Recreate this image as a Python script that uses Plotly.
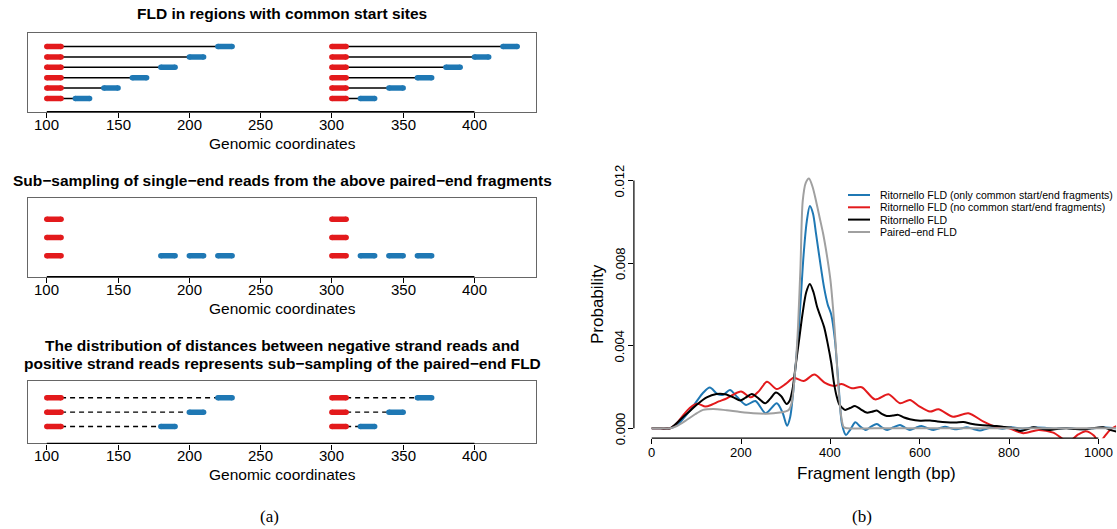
import plotly.graph_objects as go

W, H = 1117, 529
SANS = "Liberation Sans, Arial, Helvetica, sans-serif"
SERIF = "Liberation Serif, Times New Roman, serif"

RED = "#E31A1C"
BLUE = "#1F78B4"
GRAY = "#A0A0A0"

# ---------------- panel (a): read layouts ----------------
READ_LEN = 10
genomic_ticks = [100, 150, 200, 250, 300, 350, 400]

# paired-end fragments sharing start sites
fld_rows = [1, 2, 3, 4, 5, 6]
fld_neg_left = [100, 100, 100, 100, 100, 100]
fld_pos_left = [120, 140, 160, 180, 200, 220]
fld_neg_right = [300, 300, 300, 300, 300, 300]
fld_pos_right = [320, 340, 360, 380, 400, 420]

# single-end reads sub-sampled from those fragments
sub_neg_rows = [1, 2, 3]
sub_neg_left = [100, 100, 100]
sub_neg_right = [300, 300, 300]
sub_pos_rows = [1, 1, 1, 1, 1, 1]
sub_pos_starts = [180, 200, 220, 320, 340, 360]

# negative-to-positive strand distances
dist_rows = [1, 2, 3]
dist_neg_left = [100, 100, 100]
dist_pos_left = [180, 200, 220]
dist_neg_right = [300, 300, 300]
dist_pos_right = [320, 340, 360]

# ---------------- panel (b): fragment length distributions ----------------
len_only_common = [0, 20, 41, 56, 71, 86, 100, 115, 130, 147, 160, 175, 192, 211, 232, 255, 280, 293,
                   303, 310, 316, 322, 328, 334, 340, 347, 354, 361, 368, 376, 386, 394, 402, 410, 418,
                   426, 435, 445, 456, 467, 479, 491, 504, 515, 527, 541, 556, 567, 578, 591, 604, 618,
                   631, 644, 657, 670, 683, 694, 705, 720, 735, 750, 765, 785, 805, 830, 855, 880, 905,
                   930, 955, 975, 995, 1015, 1040]
prob_only_common = [0, 0, 0, 0.00015, 0.00048, 0.00088, 0.00129, 0.00172, 0.00197, 0.00166, 0.00162,
                    0.00186, 0.00150, 0.00113, 0.00132, 0.00073, 0.00121, 0.00075, 0.00012, 0.00055,
                    0.0016, 0.0030, 0.0045, 0.0064, 0.0084, 0.0100, 0.01076, 0.0104, 0.0094, 0.0082,
                    0.0068, 0.0060, 0.0055, 0.0043, 0.0022, 0.0002, -0.00032, -0.00005, 0.00029,
                    0.00008, -0.00008, 0.00008, 0.00021, 0.00005, -0.00008, 0.00005, 0.00016, 0.00003,
                    -0.00008, 0.00002, 0.00011, 0.0, -0.00008, 0.0, 0.00008, 0.0, -0.00005, 0.0,
                    0.00005, -0.00003, -0.00011, -0.00002, 0.00005, -0.00002, 0.00005, -0.00002,
                    0.00004, 0.00003, -0.00002, 0.00002, -0.00004, -0.00003, 0.00002, 0.00004, 0.0]

len_no_common = [0, 20, 41, 56, 71, 85, 97, 105, 120, 135, 150, 165, 180, 200, 222, 240, 258, 280, 300,
                 318, 340, 364, 388, 410, 425, 448, 470, 500, 530, 556, 578, 600, 623, 642, 675, 709,
                 743, 772, 800, 832, 866, 899, 933, 955, 972, 990, 1002, 1012, 1026, 1040]
prob_no_common = [0, 0, 0, 0.00025, 0.00065, 0.00098, 0.00116, 0.00118, 0.00105, 0.00115, 0.00130,
                  0.00142, 0.00160, 0.00178, 0.00150, 0.00180, 0.00225, 0.00190, 0.00215, 0.00245,
                  0.00229, 0.00260, 0.00220, 0.00205, 0.00215, 0.00194, 0.00199, 0.00140, 0.00165,
                  0.00121, 0.00137, 0.00105, 0.00081, 0.00092, 0.00056, 0.00073, 0.00032, 0.00005,
                  0.0, -0.00024, -0.00008, -0.00021, -0.00065, -0.00030, -0.00014, -0.00035,
                  -0.00070, -0.00045, -0.00008, 0.00010]

len_all = [0, 20, 41, 56, 71, 86, 100, 123, 145, 164, 183, 198, 210, 224, 239, 254, 266, 278, 290, 302,
           309, 315, 322, 330, 338, 346, 354, 362, 370, 378, 386, 394, 402, 408, 414, 420, 426, 433, 444,
           455, 468, 481, 493, 504, 515, 526, 540, 552, 565, 578, 601, 623, 640, 660, 680, 698, 715, 735,
           755, 772, 790, 810, 825, 840, 855, 872, 892, 910, 929, 948, 966, 985, 1011, 1030, 1040]
prob_all = [0, 0, 0, 0.00025, 0.00056, 0.00085, 0.00113, 0.00150, 0.00166, 0.00165, 0.00150, 0.00134,
            0.00148, 0.00166, 0.00145, 0.00121, 0.00145, 0.00173, 0.00155, 0.00118, 0.00135, 0.00186,
            0.0030, 0.0043, 0.0056, 0.0066, 0.00699, 0.0066, 0.0059, 0.0054, 0.0049, 0.0041, 0.00315,
            0.0022, 0.00155, 0.00115, 0.00100, 0.00089, 0.00098, 0.00108, 0.00092, 0.00076, 0.00080,
            0.00086, 0.00070, 0.00060, 0.00062, 0.00065, 0.00052, 0.00044, 0.00037, 0.00038, 0.00033,
            0.00029, 0.00028, 0.00030, 0.00022, 0.00016, 0.00013, 0.00011, 0.00006, 0.0, -0.00013,
            -0.00005, 0.00005, -0.00002, -0.00008, -0.00002, 0.0, -0.00004, -0.00005, 0.0, 0.00005,
            -0.00010, -0.00016]

len_paired = [0, 20, 41, 56, 78, 97, 115, 138, 168, 198, 227, 257, 287, 300, 307, 313, 320, 326, 333,
              338, 345, 352, 360, 368, 376, 384, 392, 400, 406, 412, 418, 424, 430, 438, 500, 600, 700,
              800, 900, 1000, 1040]
prob_paired = [0, 0, 0, 0.00011, 0.00040, 0.00068, 0.00089, 0.00094, 0.00087, 0.00079, 0.00073,
               0.00071, 0.00076, 0.00082, 0.00090, 0.0012, 0.0025, 0.0043, 0.0078, 0.0110, 0.0119,
               0.0121, 0.0117, 0.0110, 0.0102, 0.0094, 0.0084, 0.0072, 0.0058, 0.0040, 0.0020,
               0.0006, 0.00005, 0.0, 0.0, 0.0, 0.0, 0.0, 0.0, 0.0, 0.0]

series_names = ["Ritornello FLD (only common start/end fragments)",
                "Ritornello FLD (no common start/end fragments)",
                "Ritornello FLD",
                "Paired\u2212end FLD"]
series_colors = [BLUE, RED, "black", GRAY]

fld_ticks = [0, 200, 400, 600, 800, 1000]
prob_ticks = [0.0, 0.004, 0.008, 0.012]
prob_tick_text = ["0.000", "0.004", "0.008", "0.012"]


def px_x(px):
    return px / W


def px_y(py):
    return 1 - py / H


def reads(starts, rows, color, ax):
    xs, ys = [], []
    for s, r in zip(starts, rows):
        xs += [s, s + READ_LEN, None]
        ys += [r, r, None]
    return go.Scatter(x=xs, y=ys, mode="lines+markers",
                      line=dict(color=color, width=5.5),
                      marker=dict(size=5.5, color=color),
                      xaxis="x" + ax, yaxis="y" + ax,
                      hoverinfo="skip", showlegend=False)


def links(neg_starts, pos_starts, rows, ax, dash="solid"):
    xs, ys = [], []
    for n, p, r in zip(neg_starts, pos_starts, rows):
        xs += [n + READ_LEN, p, None]
        ys += [r, r, None]
    return go.Scatter(x=xs, y=ys, mode="lines",
                      line=dict(color="black", width=1.4, dash=dash),
                      xaxis="x" + ax, yaxis="y" + ax,
                      hoverinfo="skip", showlegend=False)


fig = go.Figure()

# panel 1
fig.add_trace(links(fld_neg_left, fld_pos_left, fld_rows, ""))
fig.add_trace(links(fld_neg_right, fld_pos_right, fld_rows, ""))
fig.add_trace(reads(fld_neg_left + fld_neg_right, fld_rows + fld_rows, RED, ""))
fig.add_trace(reads(fld_pos_left + fld_pos_right, fld_rows + fld_rows, BLUE, ""))

# panel 2
fig.add_trace(reads(sub_neg_left + sub_neg_right, sub_neg_rows + sub_neg_rows, RED, "2"))
fig.add_trace(reads(sub_pos_starts, sub_pos_rows, BLUE, "2"))

# panel 3
fig.add_trace(links(dist_neg_left, dist_pos_left, dist_rows, "3", dash="5px,4px"))
fig.add_trace(links(dist_neg_right, dist_pos_right, dist_rows, "3", dash="5px,4px"))
fig.add_trace(reads(dist_neg_left + dist_neg_right, dist_rows + dist_rows, RED, "3"))
fig.add_trace(reads(dist_pos_left + dist_pos_right, dist_rows + dist_rows, BLUE, "3"))

# panel (b) curves
curves = [(len_only_common, prob_only_common), (len_no_common, prob_no_common),
          (len_all, prob_all), (len_paired, prob_paired)]
for (xs, ys), name, col in zip(curves, series_names, series_colors):
    fig.add_trace(go.Scatter(x=xs, y=ys, mode="lines", name=name,
                             line=dict(color=col, width=2, shape="spline", smoothing=0.8),
                             xaxis="x4", yaxis="y4", hoverinfo="skip", showlegend=False))

# ---------------- axes ----------------
box_x = [px_x(28), px_x(536)]
left_x = dict(domain=box_x, range=[86.8, 443.2], tickvals=genomic_ticks, ticks="outside",
              ticklen=5, tickwidth=1, tickcolor="black", showline=True, mirror=True,
              linecolor="#666666", linewidth=1.4, showgrid=False, zeroline=False,
              showticklabels=False, fixedrange=True)
left_y = dict(showticklabels=False, ticks="", showline=True, mirror=True, linecolor="#666666",
              linewidth=1.4, showgrid=False, zeroline=False, fixedrange=True)

fig.update_layout(
    xaxis=dict(left_x, anchor="y"),
    yaxis=dict(left_y, anchor="x", domain=[px_y(111.7), px_y(33.3)], range=[-0.28, 7.28]),
    xaxis2=dict(left_x, anchor="y2"),
    yaxis2=dict(left_y, anchor="x2", domain=[px_y(276.7), px_y(198.3)], range=[-0.16, 4.16]),
    xaxis3=dict(left_x, anchor="y3"),
    yaxis3=dict(left_y, anchor="x3", domain=[px_y(443.3), px_y(381)], range=[-0.16, 4.16]),
    xaxis4=dict(anchor="y4", domain=[px_x(633.9), px_x(1116.2)], range=[-40, 1040],
                tickvals=fld_ticks, ticks="outside", ticklen=5, tickwidth=1, tickcolor="black",
                showline=False, showgrid=False, zeroline=False, showticklabels=False,
                fixedrange=True),
    yaxis4=dict(anchor="x4", domain=[px_y(438.2), px_y(170.6)], range=[-0.00048, 0.01248],
                tickvals=prob_ticks, ticks="outside", ticklen=5, tickwidth=1, tickcolor="black",
                showline=False, showgrid=False, zeroline=False, showticklabels=False,
                fixedrange=True),
)

shapes = []
for ax in ["", "2", "3"]:
    shapes.append(dict(type="line", xref="x" + ax, yref=("y" + ax) + " domain",
                       x0=genomic_ticks[0], x1=genomic_ticks[-1], y0=0, y1=0,
                       line=dict(color="black", width=1.2)))
shapes.append(dict(type="line", xref="x4", yref="y4 domain", x0=fld_ticks[0], x1=fld_ticks[-1],
                   y0=0, y1=0, line=dict(color="black", width=1.2)))
shapes.append(dict(type="line", xref="x4 domain", yref="y4", x0=0, x1=0, y0=prob_ticks[0],
                   y1=prob_ticks[-1], line=dict(color="black", width=1.2)))

annotations = []


def text(s, x, y, size, bold=False, family=SANS, xanchor="center", angle=0):
    if bold:
        s = "<b>" + s + "</b>"
    annotations.append(dict(text=s, x=px_x(x), y=px_y(y), xref="paper", yref="paper",
                            xanchor=xanchor, yanchor="middle", showarrow=False, textangle=angle,
                            font=dict(family=family, size=size, color="black")))


# tick labels placed against their axes
for ax in ["", "2", "3"]:
    for t in genomic_ticks:
        annotations.append(dict(text=str(t), x=t, y=0, xref="x" + ax, yref=("y" + ax) + " domain",
                                yshift=-12.5, xanchor="center", yanchor="middle", showarrow=False,
                                font=dict(family=SANS, size=15, color="black")))
for t in fld_ticks:
    annotations.append(dict(text=str(t), x=t, y=0, xref="x4", yref="y4 domain", yshift=-14.5,
                            xanchor="center", yanchor="middle", showarrow=False,
                            font=dict(family=SANS, size=13, color="black")))
for t, lab in zip(prob_ticks, prob_tick_text):
    annotations.append(dict(text=lab, x=0, y=t, xref="x4 domain", yref="y4", xshift=-14,
                            xanchor="center", yanchor="middle", showarrow=False, textangle=-90,
                            font=dict(family=SANS, size=13, color="black")))

text("FLD in regions with common start sites", 282, 13.5, 15.5, bold=True)
text("Sub\u2212sampling of single\u2212end reads from the above paired\u2212end fragments", 282, 180.7, 15.5, bold=True)
text("The distribution of distances between negative strand reads and", 282, 345, 15.5, bold=True)
text("positive strand reads represents sub\u2212sampling of the paired\u2212end FLD", 282, 363, 15.5, bold=True)
for bottom in [111.7, 276.7, 443.3]:
    text("Genomic coordinates", 282, bottom + 31.3, 15.5)
text("(a)", 269, 516.7, 17, family=SERIF)
text("(b)", 862, 516.7, 17, family=SERIF)
text("Fragment length (bp)", 876, 473.3, 17)
text("Probability", 597, 304, 17, angle=-90)

# legend
legend_rows = [195, 207.3, 219.6, 232]
for name, col, ly in zip(series_names, series_colors, legend_rows):
    shapes.append(dict(type="line", xref="paper", yref="paper", x0=px_x(848), x1=px_x(870),
                       y0=px_y(ly), y1=px_y(ly), line=dict(color=col, width=2)))
    text(name, 878, ly, 10.5, xanchor="left")

fig.update_layout(width=W, height=H, margin=dict(l=0, r=0, t=0, b=0),
                  paper_bgcolor="white", plot_bgcolor="white", showlegend=False,
                  shapes=shapes, annotations=annotations)

fig.write_html("out.html")
